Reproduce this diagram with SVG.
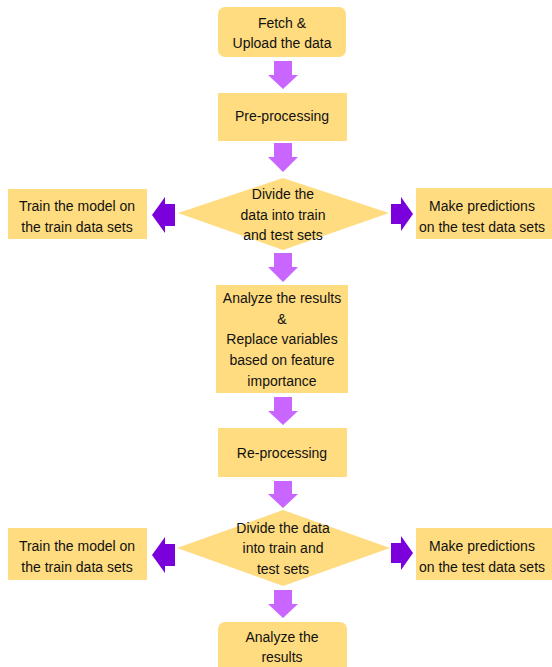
<svg xmlns="http://www.w3.org/2000/svg" width="552" height="667" viewBox="0 0 552 667">
<style>
.box{fill:#FFDC80}
.t{font-family:"Liberation Sans",Arial,sans-serif;font-size:14px;fill:#111;text-anchor:middle}
.down{fill:#C966FF}
.side{fill:#7A00DC}
</style>
<rect width="552" height="667" fill="#fff"/>
<g id="connectors">
<path class="down" d="M274,61 H292 V75 H298 L283,89 L268,75 H274 Z"/>
<path class="down" d="M274,143 H292 V157 H298 L283,172 L268,157 H274 Z"/>
<path class="down" d="M274,253 H292 V267 H298 L283,282 L268,267 H274 Z"/>
<path class="down" d="M274,397 H292 V411 H298 L283,425 L268,411 H274 Z"/>
<path class="down" d="M274,481 H292 V494 H298 L283,508 L268,494 H274 Z"/>
<path class="down" d="M274,590 H292 V604 H298 L283,618 L268,604 H274 Z"/>
<path class="side" d="M175,204 V226 H165 V233 L152,215 L165,197 V204 Z"/>
<path class="side" d="M391,204 V224 H401 V231 L413,214 L401,197 V204 Z"/>
<path class="side" d="M175,544 V566 H165 V573 L152,555 L165,537 V544 Z"/>
<path class="side" d="M391,543 V563 H401 V570 L413,553 L401,536 V543 Z"/>
</g>
<g id="fetch">
<rect class="box" x="218" y="7" width="128" height="50" rx="7"/>
<text class="t" x="282" y="28">Fetch &amp;</text>
<text class="t" x="282" y="48">Upload the data</text>
</g>
<g id="preprocessing">
<rect class="box" x="218" y="93" width="129" height="48"/>
<text class="t" x="282" y="121">Pre-processing</text>
</g>
<g id="divide1">
<polygon class="box" points="178,213 283,178 389,213 283,250"/>
<text class="t" x="283" y="199">Divide the</text>
<text class="t" x="283" y="220">data into train</text>
<text class="t" x="283" y="240">and test sets</text>
</g>
<g id="train1">
<rect class="box" x="8" y="189" width="139" height="50"/>
<text class="t" x="77" y="211">Train the model on</text>
<text class="t" x="77" y="232">the train data sets</text>
</g>
<g id="predict1">
<rect class="box" x="416" y="188" width="139" height="51"/>
<text class="t" x="482" y="211">Make predictions</text>
<text class="t" x="482" y="232">on the test data sets</text>
</g>
<g id="analyze1">
<rect class="box" x="216" y="285" width="132" height="108"/>
<text class="t" x="282" y="303">Analyze the results</text>
<text class="t" x="282" y="324">&amp;</text>
<text class="t" x="282" y="344">Replace variables</text>
<text class="t" x="282" y="365">based on feature</text>
<text class="t" x="282" y="386">importance</text>
</g>
<g id="reprocessing">
<rect class="box" x="218" y="428" width="129" height="49"/>
<text class="t" x="282" y="458">Re-processing</text>
</g>
<g id="divide2">
<polygon class="box" points="177,548 283,510 390,548 283,586"/>
<text class="t" x="283" y="533">Divide the data</text>
<text class="t" x="283" y="553">into train and</text>
<text class="t" x="283" y="574">test sets</text>
</g>
<g id="train2">
<rect class="box" x="8" y="528" width="139" height="52"/>
<text class="t" x="77" y="551">Train the model on</text>
<text class="t" x="77" y="572">the train data sets</text>
</g>
<g id="predict2">
<rect class="box" x="416" y="528" width="139" height="52"/>
<text class="t" x="482" y="551">Make predictions</text>
<text class="t" x="482" y="572">on the test data sets</text>
</g>
<g id="analyze2">
<rect class="box" x="218" y="622" width="129" height="52" rx="7"/>
<text class="t" x="282" y="642">Analyze the</text>
<text class="t" x="282" y="662">results</text>
</g>
</svg>
